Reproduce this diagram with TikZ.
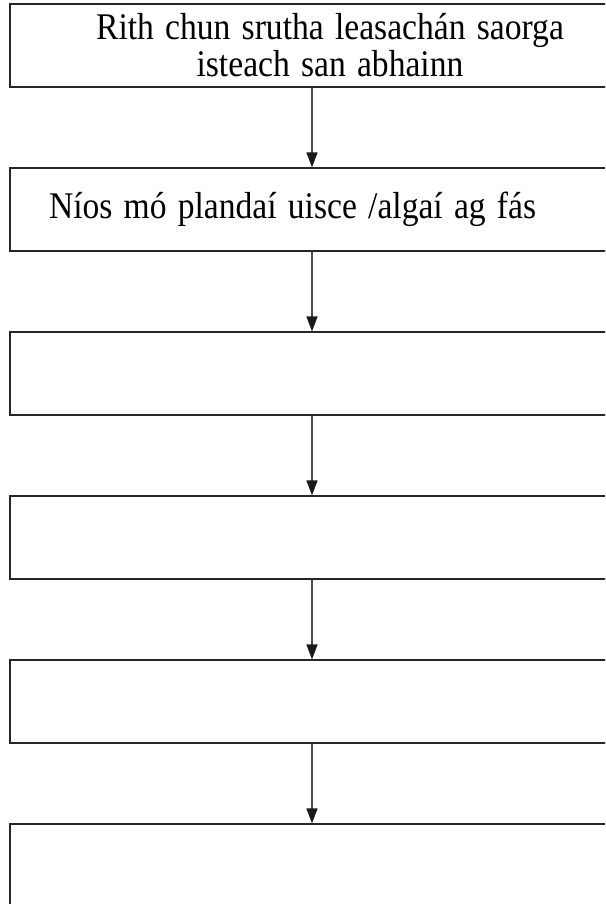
\documentclass[tikz,border=0pt]{standalone}
\usepackage{fontspec}
\setmainfont{Liberation Serif}
\usetikzlibrary{arrows.meta}
\newcommand{\tallText}[1]{\scalebox{1}[1.12]{#1}}

\begin{document}
\begin{tikzpicture}[x=1pt,y=-1pt]
                            \tikzset{stage box/.style={draw=black!85,line width=1.2pt,rectangle,
                            minimum width=640pt,minimum height=83pt,inner xsep=39pt,
                            text width=562pt,font=\fontsize{33.6}{37}\selectfont}}
                            \tikzset{flow arrow/.style={draw=black!70,line width=1.3pt,
                            -{Triangle[length=15pt,width=11pt,black!90]}}}

                            \useasboundingbox (0,0) rectangle (605,904);
                            \clip (0,0) rectangle (605,904);
                            \coordinate (axis) at (312,0);
                            \node [stage box,align=center] (S1) at (330,45.5)
                              {\tallText{Rith chun srutha leasachán saorga}\\ \tallText{isteach san abhainn}};
                            \node [stage box,align=left] (S2) at (330,209.5) {\tallText{Níos mó plandaí uisce /algaí ag fás}};
                            \node [stage box] (S3) at (330,373.5) {};
                            \node [stage box] (S4) at (330,537.5) {};
                            \node [stage box] (S5) at (330,701.5) {};
                            \node [stage box] (S6) at (330,865.5) {};
                            \foreach \a/\b in {S1/S2,S2/S3,S3/S4,S4/S5,S5/S6}
                              \draw [flow arrow] (\a.south -| axis) -- (\b.north -| axis);
                        \end{tikzpicture}
\end{document}
